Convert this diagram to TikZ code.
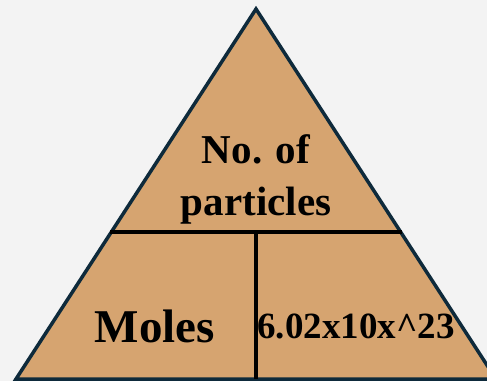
\documentclass[tikz,border=0pt]{standalone}
\usepackage{fontspec}
\setmainfont{Liberation Serif}
\begin{document}
\begin{tikzpicture}[x=1pt,y=1pt,
  lbl/.style={anchor=base,inner sep=0pt,font=\bfseries},
  edge/.style={line width=3.5pt,draw=outline,line join=miter},
  divider/.style={line width=3.5pt,draw=black}]
\definecolor{bg}{HTML}{F3F3F3}
\definecolor{outline}{HTML}{0E2A3B}
\definecolor{tri}{HTML}{D6A470}
\useasboundingbox (0,0) rectangle (487,381);
\fill[bg] (0,0) rectangle (487,381);
\begin{scope}
\clip (0,0) rectangle (487,381);
\coordinate (apex) at (256,372);
\coordinate (bl) at (16,2);
\coordinate (br) at (496,2);
\filldraw[edge,fill=tri] (apex) -- (br) -- (bl) -- cycle;
\coordinate (hl) at (110,149);
\coordinate (hr) at (402,149);
\coordinate (vb) at (256,2);
\coordinate (vt) at (256,149);
\draw[divider] (hl) -- (hr);
\draw[divider] (vt) -- (vb);
\end{scope}
\node[lbl,font=\bfseries\fontsize{41}{41}\selectfont] (n1) at (256,218) {No. of};
\node[lbl,font=\bfseries\fontsize{41}{41}\selectfont] (n2) at (256,166) {particles};
\node[lbl,font=\bfseries\fontsize{47}{47}\selectfont] (moles) at (155,39) {Moles};
\node[lbl,font=\bfseries\fontsize{37}{37}\selectfont] (avo) at (356,43) {6.02x10x\^{}23};
\end{tikzpicture}
\end{document}
